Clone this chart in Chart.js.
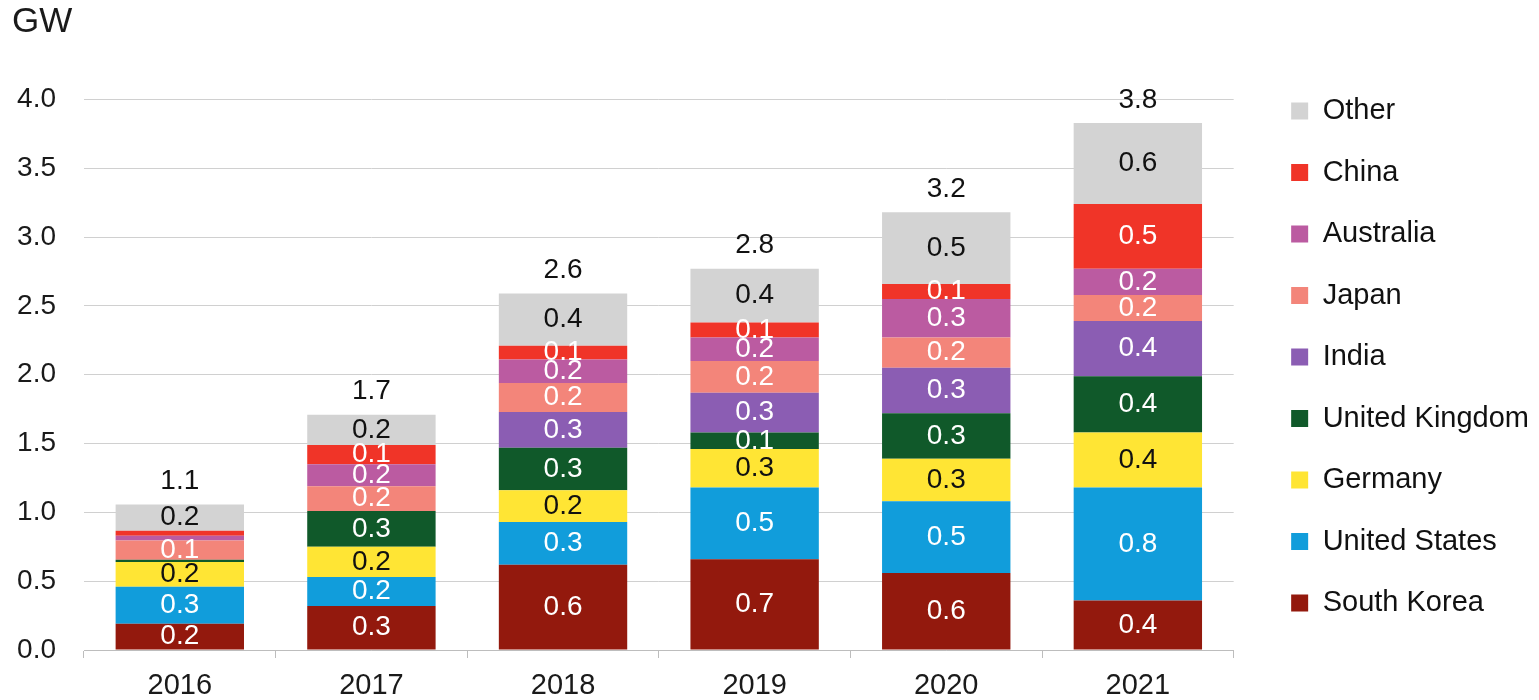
<!DOCTYPE html>
<html>
<head>
<meta charset="utf-8">
<title>Capacity by country (GW)</title>
<script src="https://cdn.jsdelivr.net/npm/chart.js@4.4.0/dist/chart.umd.min.js"></script>
<style>
  html, body { margin: 0; padding: 0; background: #ffffff; }
  .chart-container { position: relative; width: 1539px; height: 700px; }
</style>
</head>
<body>
<div class="chart-container">
  <canvas id="gwChart"></canvas>
</div>
<script>
// categories and tick labels
const years = ["2016", "2017", "2018", "2019", "2020", "2021"];
const yTicks = [0, 0.5, 1.0, 1.5, 2.0, 2.5, 3.0, 3.5, 4.0];

// series values (GW), bottom of the stack first
const southKorea   = [0.19, 0.32, 0.62, 0.66, 0.56, 0.36];
const unitedStates = [0.27, 0.21, 0.31, 0.52, 0.52, 0.82];
const germany      = [0.18, 0.22, 0.23, 0.28, 0.31, 0.40];
const unitedKingdom = [0.015, 0.26, 0.31, 0.12, 0.33, 0.41];
const india        = [0, 0, 0.26, 0.29, 0.33, 0.40];
const japan        = [0.14, 0.18, 0.21, 0.23, 0.22, 0.19];
const australia    = [0.036, 0.16, 0.17, 0.17, 0.28, 0.19];
const china        = [0.036, 0.14, 0.10, 0.11, 0.11, 0.47];
const other        = [0.19, 0.22, 0.38, 0.39, 0.52, 0.59];

const FONT = "'Liberation Sans', Arial, Helvetica, sans-serif";
Chart.defaults.font.family = FONT;
Chart.defaults.color = "#1a1a1a";

function series(label, data, color, labelColor) {
  return {
    label: label,
    data: data,
    backgroundColor: color,
    borderWidth: 0,
    labelColor: labelColor, // colour of the value printed inside the segment
  };
}

const datasets = [
  series("South Korea", southKorea, "#93190d", "#ffffff"),
  series("United States", unitedStates, "#119ddb", "#ffffff"),
  series("Germany", germany, "#ffe534", "#111111"),
  series("United Kingdom", unitedKingdom, "#10592a", "#ffffff"),
  series("India", india, "#8b5db3", "#ffffff"),
  series("Japan", japan, "#f3857a", "#ffffff"),
  series("Australia", australia, "#bb5ba1", "#ffffff"),
  series("China", china, "#f03428", "#ffffff"),
  series("Other", other, "#d3d3d3", "#111111"),
];

// prints segment values and the stack totals
const segmentLabels = {
  id: "segmentLabels",
  afterDatasetsDraw(chart) {
    const ctx = chart.ctx;
    const yScale = chart.scales.y;
    ctx.save();
    ctx.font = "28px " + FONT;
    ctx.textAlign = "center";
    ctx.textBaseline = "middle";

    chart.data.datasets.forEach((ds, i) => {
      const meta = chart.getDatasetMeta(i);
      meta.data.forEach((bar, j) => {
        const v = ds.data[j];
        if (v < 0.05) return; // slivers carry no label
        ctx.fillStyle = ds.labelColor;
        ctx.fillText(v.toFixed(1), bar.x, (bar.y + bar.base) / 2);
      });
    });

    chart.data.labels.forEach((yr, j) => {
      const total = chart.data.datasets.reduce((sum, ds) => sum + ds.data[j], 0);
      const x = chart.getDatasetMeta(0).data[j].x;
      ctx.fillStyle = "#111111";
      ctx.fillText(total.toFixed(1), x, yScale.getPixelForValue(total) - 23);
    });
    ctx.restore();
  },
};

const ctx = document.getElementById("gwChart").getContext("2d");
new Chart(ctx, {
  type: "bar",
  data: {
    labels: years,
    datasets: datasets,
  },
  options: {
    responsive: true,
    maintainAspectRatio: false,
    animation: false,
    categoryPercentage: 1.0,
    barPercentage: 0.67,
    layout: {
      padding: { left: 12, top: 14, right: 0, bottom: 0 },
    },
    scales: {
      x: {
        stacked: true,
        afterFit: (scale) => {
          scale.height = 50;
        },
        grid: {
          offset: true,
          drawOnChartArea: false,
          tickLength: 8,
          color: "#bdbdbd",
        },
        border: { display: true, color: "#bdbdbd" },
        ticks: {
          padding: 13,
          color: "#1a1a1a",
          font: { size: 29, lineHeight: 1 },
        },
      },
      y: {
        stacked: true,
        min: 0,
        max: 4,
        afterBuildTicks: (scale) => {
          scale.ticks = yTicks.map((v) => ({ value: v }));
        },
        afterFit: (scale) => {
          scale.width = 72;
        },
        grid: {
          drawTicks: false,
          color: "#d0d0d0",
        },
        border: { display: false },
        ticks: {
          padding: 28,
          color: "#1a1a1a",
          font: { size: 28 },
          callback: (v) => Number(v).toFixed(1),
        },
      },
      // empty axis, only keeps a gap between the plot and the legend
      gap: {
        type: "linear",
        position: "right",
        grid: { display: false },
        border: { display: false },
        ticks: { display: false },
        afterFit: (scale) => {
          scale.width = 25;
        },
      },
    },
    plugins: {
      title: {
        display: true,
        text: "GW",
        align: "start",
        color: "#1a1a1a",
        font: { size: 35, weight: "normal", lineHeight: 0.5 },
        padding: { top: 0, bottom: 68 },
      },
      legend: {
        position: "right",
        reverse: true,
        maxWidth: 420,
        labels: {
          boxWidth: 17,
          boxHeight: 17,
          padding: 32.5,
          color: "#111111",
          font: { size: 29 },
        },
      },
      tooltip: { enabled: false },
    },
  },
  plugins: [segmentLabels],
});
</script>
</body>
</html>
